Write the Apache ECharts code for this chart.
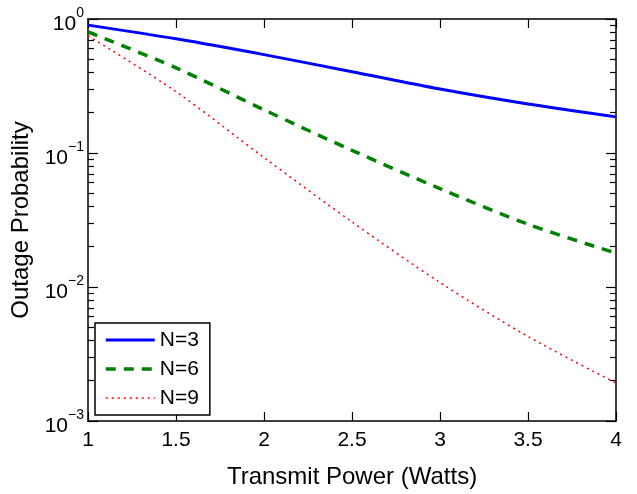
<!DOCTYPE html>
<html><head><meta charset="utf-8">
<script src="https://cdn.jsdelivr.net/npm/echarts@6/dist/echarts.min.js"></script>
<style>html,body{margin:0;padding:0;background:#fff}#c{width:637px;height:494px}</style>
</head><body><div id="c"></div>
<script>
// Data
var xs = [1, 1.5, 2, 2.5, 3, 3.5, 4];
var n3 = [0.90, 0.711, 0.542, 0.404, 0.300, 0.232, 0.186];
var n6 = [0.80, 0.432, 0.210, 0.1047, 0.0542, 0.0294, 0.0179];
var n9 = [0.75, 0.287, 0.0924, 0.0306, 0.0108, 0.00427, 0.00192];
var seriesNames = ['N=3', 'N=6', 'N=9'];
var xTicks = [1, 1.5, 2, 2.5, 3, 3.5, 4];
var yMajorExp = [-3, -2, -1, 0];
var yMinorExp = [];
[-3, -2, -1].forEach(function (e) { for (var k = 2; k <= 9; k++) yMinorExp.push(e + Math.log10(k)); });

function pairs(ys) { return xs.map(function (x, i) { return [x, ys[i]]; }); }
var FONT = 'Liberation Sans, Arial, sans-serif';
var chart = echarts.init(document.getElementById('c'), null, { renderer: 'canvas' });

var styles = [
  { color: '#0000ff', width: 3, type: 'solid' },
  { color: '#008000', width: 3.5, type: [10, 8] },
  { color: '#ff0000', width: 1.5, type: [2, 4] }
];

// tick-only axes in exponent space (linear -3..0 equals log 1e-3..1e0)
function tickAx(pos, ticks, len) {
  return {
    type: 'value', min: -3, max: 0, position: pos, show: true,
    axisLine: { show: false, onZero: false },
    axisTick: { show: true, inside: true, length: len, customValues: ticks, lineStyle: { color: '#000', width: 1.2 } },
    axisLabel: { show: false }, splitLine: { show: false }
  };
}

chart.setOption({
  animation: false,
  backgroundColor: '#fff',
  grid: { left: 88, right: 21, top: 19, bottom: 67, containLabel: false },
  xAxis: [{
    type: 'value', min: 1, max: 4, interval: 0.5, position: 'bottom',
    name: 'Transmit Power (Watts)', nameLocation: 'middle', nameGap: 44,
    nameTextStyle: { fontSize: 24, color: '#000', fontFamily: FONT },
    axisLine: { show: true, onZero: false, lineStyle: { color: '#000', width: 1.5 } },
    axisTick: { inside: true, length: 9, lineStyle: { color: '#000', width: 1.2 } },
    axisLabel: { fontSize: 21, color: '#000', margin: 9, fontFamily: FONT },
    splitLine: { show: false }
  }, {
    type: 'value', min: 1, max: 4, interval: 0.5, position: 'top',
    axisLine: { show: true, onZero: false, lineStyle: { color: '#000', width: 1.5 } },
    axisTick: { inside: true, length: 9, lineStyle: { color: '#000', width: 1.2 } },
    axisLabel: { show: false }, splitLine: { show: false }
  }],
  yAxis: [
    {
      type: 'log', logBase: 10, min: 0.001, max: 1, position: 'left',
      name: 'Outage Probability', nameLocation: 'middle', nameGap: 46,
      nameTextStyle: { fontSize: 24, color: '#000', fontFamily: FONT },
      axisLine: { show: true, onZero: false, lineStyle: { color: '#000', width: 1.5 } },
      axisTick: { show: true, inside: true, length: 10, lineStyle: { color: '#000', width: 1.2 } },
      axisLabel: {
        margin: 4, fontFamily: FONT,
        formatter: function (v) {
          var e = Math.round(Math.log10(v));
          return '{b|10}{s|' + (e < 0 ? '\u2212' + (-e) : e) + '}';
        },
        rich: {
          b: { fontSize: 21, color: '#000', fontFamily: FONT, lineHeight: 24, padding: [10, 0, 0, 0] },
          s: { fontSize: 14, color: '#000', fontFamily: FONT, lineHeight: 14, padding: [0, 0, 12, 0] }
        }
      },
      splitLine: { show: false }
    },
    {
      type: 'log', logBase: 10, min: 0.001, max: 1, position: 'right',
      axisLine: { show: true, onZero: false, lineStyle: { color: '#000', width: 1.5 } },
      axisTick: { show: true, inside: true, length: 10, lineStyle: { color: '#000', width: 1.2 } },
      axisLabel: { show: false }, splitLine: { show: false }
    },
    tickAx('left', yMinorExp, 6),
    tickAx('right', yMinorExp, 6)
  ],
  legend: {
    show: true, left: 95, top: 323, orient: 'vertical',
    data: seriesNames.map(function (n, i) {
      return { name: n, lineStyle: { width: styles[i].width, type: styles[i].type, color: styles[i].color } };
    }),
    itemWidth: 49, itemHeight: 14, itemGap: 7,
    itemStyle: { color: 'rgba(0,0,0,0)', borderWidth: 0, borderColor: 'rgba(0,0,0,0)', opacity: 0 },
    padding: [6, 11, 6, 9],
    backgroundColor: '#fff', borderColor: '#000', borderWidth: 1.5, borderRadius: 0,
    textStyle: { fontSize: 21, color: '#000', fontFamily: FONT, lineHeight: 22 }
  },
  series: seriesNames.map(function (n, i) {
    return { name: n, type: 'line', data: pairs([n3, n6, n9][i]), smooth: 0.3, symbol: 'none',
      lineStyle: styles[i], itemStyle: { color: styles[i].color } };
  })
});
</script></body></html>
